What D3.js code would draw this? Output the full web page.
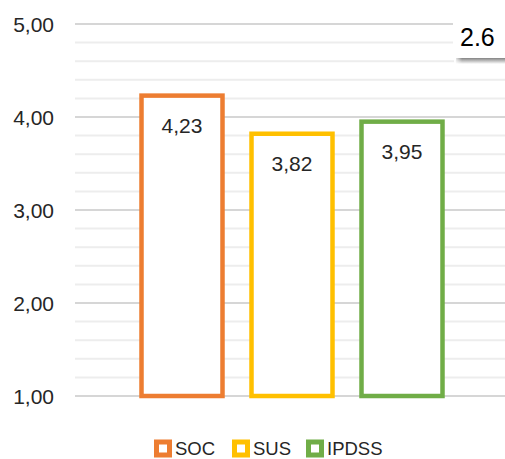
<!DOCTYPE html>
<html>
<head>
<meta charset="utf-8">
<script src="https://cdn.jsdelivr.net/npm/d3@7"></script>
<style>
  body { margin: 0; background: #fff; }
  text { font-family: "Liberation Sans", Arial, sans-serif; fill: #262626; }
</style>
</head>
<body>
<div id="chart"></div>
<script>
var categories = ["SOC", "SUS", "IPDSS"];
var values = [4.23, 3.82, 3.95];
var valueLabels = ["4,23", "3,82", "3,95"];
var colors = ["#ED7D31", "#FFC000", "#70AD47"];
var majorTicks = [1, 2, 3, 4, 5];
var tickLabels = ["1,00", "2,00", "3,00", "4,00", "5,00"];
var minorTicks = d3.range(1, 5.01, 0.2);
var boxLabel = "2.6";

var W = 505, H = 459;

var svg = d3.select("#chart")
  .append("svg")
    .attr("width", W)
    .attr("height", H);

var y = d3.scaleLinear()
  .domain([1, 5])
  .range([396, 24]);

var x = d3.scaleBand()
  .domain(categories)
  .range([127, 457])
  .paddingInner(0.26)
  .paddingOuter(0.13);

// minor grid
svg.append("g")
  .selectAll("line")
  .data(minorTicks)
  .enter().append("line")
    .attr("x1", 75)
    .attr("x2", W)
    .attr("y1", function(d) { return y(d); })
    .attr("y2", function(d) { return y(d); })
    .attr("stroke", "#ededed")
    .attr("stroke-width", 2);

// major grid
svg.append("g")
  .selectAll("line")
  .data(majorTicks)
  .enter().append("line")
    .attr("x1", 75)
    .attr("x2", W)
    .attr("y1", function(d) { return y(d); })
    .attr("y2", function(d) { return y(d); })
    .attr("stroke", "#d6d6d6")
    .attr("stroke-width", 2);

// y tick labels
svg.append("g")
  .selectAll("text")
  .data(majorTicks)
  .enter().append("text")
    .attr("x", 54)
    .attr("y", function(d) { return y(d); })
    .attr("dy", "0.36em")
    .attr("text-anchor", "end")
    .attr("font-size", 21)
    .text(function(d, i) { return tickLabels[i]; });

// bars (outlined)
var bw = 81;
svg.append("g")
  .selectAll("rect")
  .data(values)
  .enter().append("rect")
    .attr("x", function(d, i) { return x(categories[i]) + x.bandwidth() / 2 - bw / 2; })
    .attr("y", function(d) { return y(d); })
    .attr("width", bw)
    .attr("height", function(d) { return y(1) - y(d); })
    .attr("fill", "#fff")
    .attr("stroke", function(d, i) { return colors[i]; })
    .attr("stroke-width", 4.5);

// value labels
svg.append("g")
  .selectAll("text")
  .data(values)
  .enter().append("text")
    .attr("x", function(d, i) { return x(categories[i]) + x.bandwidth() / 2; })
    .attr("y", function(d) { return y(d) + 30; })
    .attr("dy", "0.36em")
    .attr("text-anchor", "middle")
    .attr("font-size", 21)
    .text(function(d, i) { return valueLabels[i]; });

// "2.6" box with shadow
var defs = svg.append("defs");
var grad = defs.append("linearGradient")
  .attr("id", "shadow")
  .attr("x1", 0).attr("y1", 0).attr("x2", 0).attr("y2", 1);
grad.append("stop").attr("offset", "0%").attr("stop-color", "#6e6e6e");
grad.append("stop").attr("offset", "100%").attr("stop-color", "#fff");
var gradL = defs.append("linearGradient")
  .attr("id", "shadowL")
  .attr("x1", 0).attr("y1", 0).attr("x2", 1).attr("y2", 0);
gradL.append("stop").attr("offset", "0%").attr("stop-color", "#fff").attr("stop-opacity", 1);
gradL.append("stop").attr("offset", "100%").attr("stop-color", "#fff").attr("stop-opacity", 0);

svg.append("rect")
  .attr("x", 456).attr("y", 57)
  .attr("width", W - 456).attr("height", 7)
  .attr("fill", "url(#shadow)");
svg.append("rect")
  .attr("x", 454).attr("y", 56)
  .attr("width", 8).attr("height", 9)
  .attr("fill", "url(#shadowL)");
svg.append("rect")
  .attr("x", 453).attr("y", 23)
  .attr("width", W - 453).attr("height", 35)
  .attr("fill", "#fff");
svg.append("text")
  .attr("x", 460)
  .attr("y", 37)
  .attr("dy", "0.36em")
  .attr("font-size", 25)
  .style("fill", "#000")
  .text(boxLabel);

// legend
var legendX = [154, 232, 306];
var legend = svg.append("g");
categories.forEach(function(c, i) {
  legend.append("rect")
    .attr("x", legendX[i] + 2.5)
    .attr("y", 442)
    .attr("width", 13)
    .attr("height", 13)
    .attr("fill", "#fff")
    .attr("stroke", colors[i])
    .attr("stroke-width", 5);
  legend.append("text")
    .attr("x", legendX[i] + 21)
    .attr("y", 448)
    .attr("dy", "0.36em")
    .attr("font-size", 18.5)
    .text(c);
});
</script>
</body>
</html>
